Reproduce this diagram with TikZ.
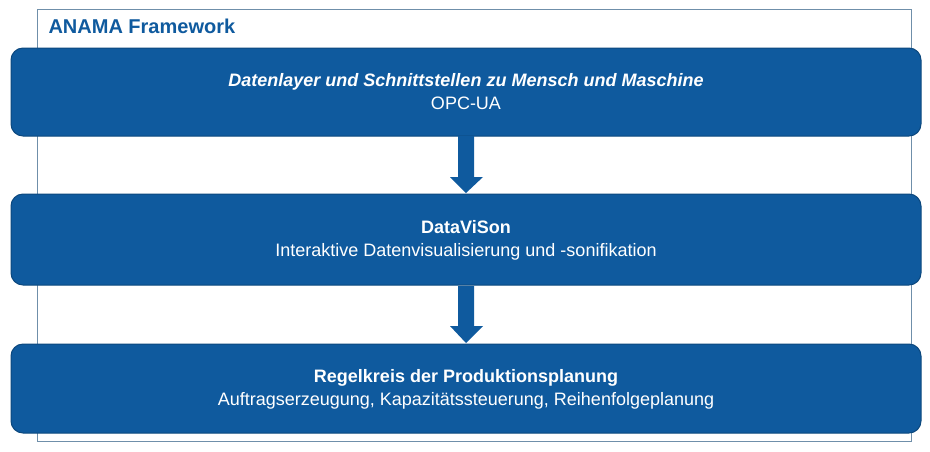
\documentclass[tikz,border=0pt]{standalone}
\usepackage{fontspec}
\setmainfont{Liberation Sans}
\definecolor{bl}{HTML}{0F5A9E}
\definecolor{fr}{HTML}{6F8FAA}
\begin{document}
\begin{tikzpicture}[x=1pt,y=-1pt,
 layer/.style={draw=bl!80!black,fill=bl,rounded corners=12pt,line width=1pt},
 lbl/.style={text=white,align=center,font=\fontsize{18}{23}\selectfont},
 barrow/.style={fill=bl,draw=none}]
\useasboundingbox (0,0) rectangle (930,451);
\node[draw=fr,line width=0.8pt,minimum width=874pt,minimum height=432pt,anchor=north west] (frame) at (37,9) {};
\node[anchor=west,text=bl,font=\fontsize{20}{24}\selectfont\bfseries] (title) at (45,26) {ANAMA Framework};
\path[layer] (11,48) rectangle (921,136);
\path[layer] (11,194) rectangle (921,285);
\path[layer] (11,344) rectangle (921,433);
\node[lbl] (l1) at (466,92) {\textit{\textbf{Datenlayer und Schnittstellen zu Mensch und Maschine}}\\OPC-UA};
\node[lbl] (l2) at (466,240) {\textbf{DataViSon}\\Interaktive Datenvisualisierung und -sonifikation};
\node[lbl] (l3) at (466,389) {\textbf{Regelkreis der Produktionsplanung}\\Auftragserzeugung, Kapazitätssteuerung, Reihenfolgeplanung};
\coordinate (a1) at (466,136);
\coordinate (a2) at (466,286);
\fill[barrow] ([xshift=-8]a1) -- ++(0,41) -- ++(-8,0) -- (466,193) -- (483,177) -- (474,177) -- (474,136) -- cycle;
\fill[barrow] ([xshift=-8]a2) -- ++(0,40) -- ++(-8,0) -- (466,343) -- (483,326) -- (474,326) -- (474,286) -- cycle;
\end{tikzpicture}
\end{document}
